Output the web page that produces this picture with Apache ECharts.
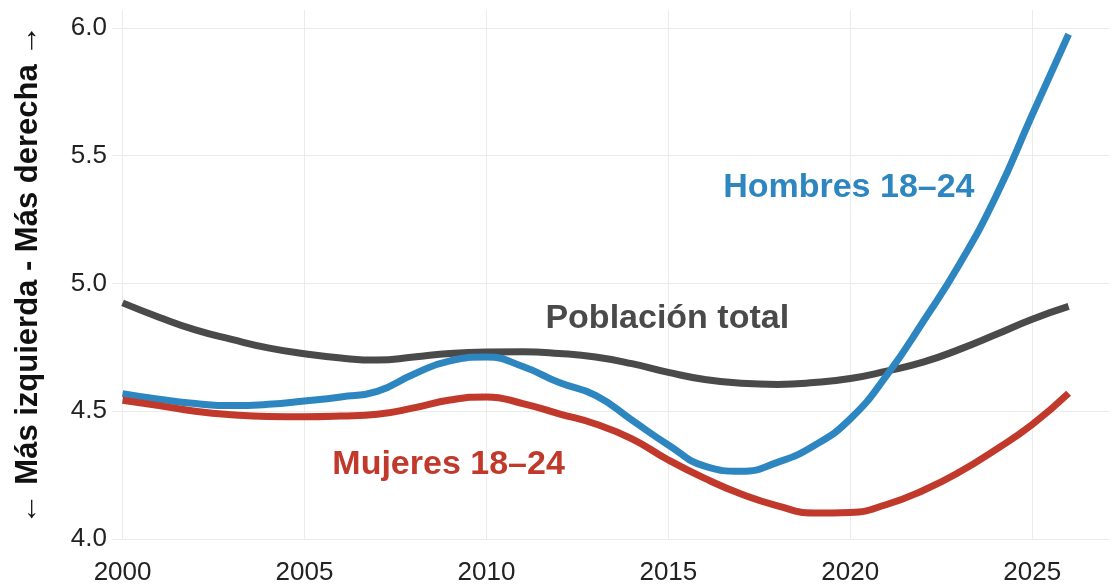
<!DOCTYPE html>
<html>
<head>
<meta charset="utf-8">
<script src="https://cdn.jsdelivr.net/npm/echarts@6/dist/echarts.min.js"></script>
<style>
html,body{margin:0;padding:0;background:#fff;}
#chart{width:1112px;height:586px;}
</style>
</head>
<body>
<div id="chart"></div>
<script>
const years = [2000,2001,2002,2003,2004,2005,2006,2007,2008,2009,2010,2011,2012,2013,2014,2015,2016,2017,2018,2019,2020,2021,2022,2023,2024,2025,2026];
const poblacionTotal = [4.924,4.868,4.818,4.781,4.748,4.725,4.708,4.700,4.712,4.726,4.732,4.733,4.726,4.712,4.686,4.652,4.624,4.609,4.605,4.612,4.628,4.657,4.692,4.742,4.800,4.860,4.910];
const hombres = [4.569,4.547,4.530,4.522,4.527,4.540,4.556,4.578,4.645,4.697,4.712,4.675,4.612,4.562,4.465,4.368,4.285,4.265,4.300,4.365,4.470,4.640,4.850,5.075,5.340,5.660,5.975];
const mujeres = [4.543,4.522,4.500,4.486,4.479,4.478,4.481,4.488,4.513,4.544,4.556,4.530,4.490,4.450,4.392,4.309,4.237,4.176,4.130,4.102,4.104,4.135,4.190,4.262,4.350,4.448,4.570];
const yTicks = [4.0,4.5,5.0,5.5,6.0];
const xTicks = [2000,2005,2010,2015,2020,2025];
const labelPositions = {
  hombres: [2019.96, 5.375],
  poblacion: [2014.97, 4.862],
  mujeres: [2008.96, 4.292]
};
const seriesNames = {hombres:'Hombres 18–24', poblacion:'Población total', mujeres:'Mujeres 18–24'};
const colors = {hombres:'#2E86C1', poblacion:'#4a4a4a', mujeres:'#C0392B'};
const yTitle = '← Más izquierda - Más derecha →';

const FONT = '"Liberation Sans", Arial, sans-serif';
const zip = (arr) => years.map((y,i)=>[y,arr[i]]);

function mkSeries(key, arr){
  return {
    name: seriesNames[key],
    type: 'line',
    data: zip(arr),
    smooth: 0.5,
    showSymbol: false,
    lineStyle: {color: colors[key], width: 7, cap: 'butt'},
    itemStyle: {color: colors[key]},
    z: key==='hombres'?3:(key==='poblacion'?2:4),
    markPoint: {
      symbol: 'circle', symbolSize: 0,
      label: {show: true, position: 'inside', formatter: seriesNames[key], fontFamily: FONT, fontWeight: 'bold', fontSize: 34, color: colors[key]},
      data: [{coord: labelPositions[key]}]
    }
  };
}

const chart = echarts.init(document.getElementById('chart'), null, {renderer:'canvas'});
chart.setOption({
  animation: false,
  backgroundColor: '#ffffff',
  grid: {left: 112, right: 0, top: 10, bottom: 45, containLabel: false},
  xAxis: {
    type: 'value', min: 1999.71, max: 2027.11, splitNumber: 5,
    axisLine: {show: false}, axisTick: {show: false},
    axisLabel: {fontFamily: FONT, fontSize: 26, color: '#222', margin: 21,
      formatter: v => xTicks.indexOf(Math.round(v*1000)/1000) >= 0 ? String(v) : ''},
    splitLine: {show: true, showMinLine: false, showMaxLine: false, lineStyle: {color: '#ebebeb', width: 1}}
  },
  yAxis: {
    type: 'value', min: 4.0, max: 6.07, interval: 0.5,
    name: yTitle, nameLocation: 'middle', nameGap: 68,
    nameTextStyle: {fontFamily: FONT, fontSize: 31, fontWeight: 'bold', color: '#111'},
    axisLine: {show: false}, axisTick: {show: false},
    axisLabel: {fontFamily: FONT, fontSize: 26, color: '#222', margin: 5,
      formatter: v => yTicks.some(t => Math.abs(t - v) < 1e-6) ? v.toFixed(1) : ''},
    splitLine: {show: true, showMaxLine: false, lineStyle: {color: '#ebebeb', width: 1}}
  },
  series: [mkSeries('poblacion', poblacionTotal), mkSeries('hombres', hombres), mkSeries('mujeres', mujeres)]
});
</script>
</body>
</html>
